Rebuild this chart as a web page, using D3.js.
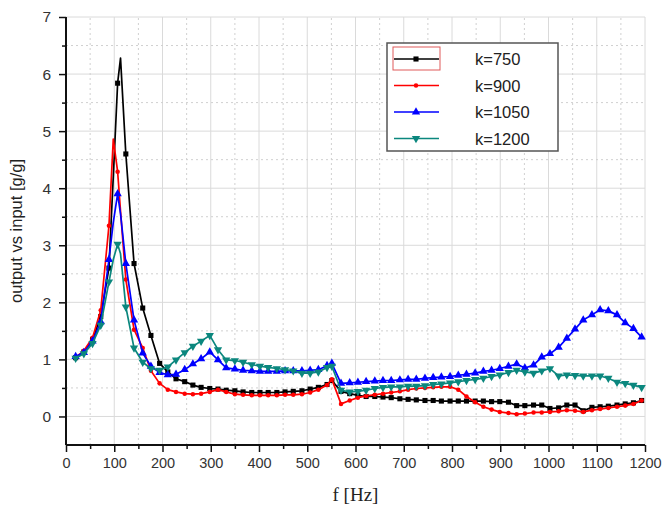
<!DOCTYPE html>
<html>
<head>
<meta charset="utf-8">
<script src="https://cdn.jsdelivr.net/npm/d3@7"></script>
<style>
  body { margin: 0; background: #fff; }
  svg { display: block; }
</style>
</head>
<body>
<div id="chart"></div>
<script>
// Frequencies [Hz] shared by all four curves
const freq = [20, 37, 55, 72, 89, 98, 107, 113, 124, 141, 159, 176, 194, 211, 228, 246, 263, 280, 298, 315,
    332, 350, 367, 385, 402, 419, 437, 454, 471, 489, 506, 523, 541, 551, 570, 588, 605, 622, 640, 657,
    674, 692, 709, 726, 744, 761, 778, 796, 813, 830, 848, 865, 882, 899, 917, 934, 951, 969, 986, 1003,
    1021, 1038, 1055, 1072, 1090, 1107, 1124, 1142, 1159, 1176, 1193];
// points drawn without a marker (peak vertices)
const unmarked = [98, 113];

const k750 = [1.03, 1.13, 1.35, 1.75, 2.6, 4.2, 5.84, 6.28, 4.6, 2.68, 1.9, 1.42, 0.93, 0.78, 0.66, 0.61, 0.55, 0.51, 0.49, 0.48,
    0.46, 0.45, 0.43, 0.42, 0.42, 0.42, 0.42, 0.43, 0.44, 0.45, 0.48, 0.51, 0.56, 0.63, 0.44, 0.40, 0.37, 0.35, 0.35, 0.34,
    0.33, 0.31, 0.30, 0.29, 0.28, 0.28, 0.27, 0.27, 0.27, 0.27, 0.27, 0.27, 0.26, 0.26, 0.25, 0.19, 0.19, 0.20, 0.20, 0.14,
    0.15, 0.20, 0.20, 0.10, 0.16, 0.17, 0.18, 0.20, 0.22, 0.24, 0.28];
const k900 = [1.04, 1.15, 1.38, 1.86, 3.34, 4.86, 4.29, 3.6, 2.4, 1.52, 1.2, 0.8, 0.58, 0.47, 0.43, 0.40, 0.39, 0.40, 0.43, 0.47,
    0.43, 0.39, 0.38, 0.37, 0.37, 0.37, 0.37, 0.38, 0.38, 0.39, 0.42, 0.47, 0.55, 0.65, 0.22, 0.28, 0.33, 0.36, 0.38, 0.40,
    0.42, 0.44, 0.47, 0.49, 0.50, 0.51, 0.52, 0.52, 0.47, 0.35, 0.25, 0.17, 0.12, 0.08, 0.06, 0.04, 0.05, 0.07, 0.07, 0.08,
    0.09, 0.11, 0.10, 0.08, 0.11, 0.13, 0.15, 0.17, 0.19, 0.22, 0.28];
const k1050 = [1.05, 1.12, 1.32, 1.66, 2.75, 3.4, 3.9, 3.55, 2.68, 1.69, 1.11, 0.88, 0.77, 0.73, 0.74, 0.82, 0.92, 1.01, 1.13, 0.99,
    0.85, 0.83, 0.81, 0.80, 0.79, 0.79, 0.79, 0.80, 0.80, 0.80, 0.81, 0.82, 0.89, 0.93, 0.58, 0.59, 0.60, 0.61, 0.62, 0.63,
    0.63, 0.64, 0.65, 0.65, 0.67, 0.68, 0.69, 0.70, 0.72, 0.74, 0.76, 0.79, 0.81, 0.84, 0.88, 0.92, 0.85, 0.90, 1.04, 1.10,
    1.21, 1.37, 1.53, 1.69, 1.78, 1.87, 1.85, 1.78, 1.64, 1.54, 1.39];
const k1200 = [1.02, 1.10, 1.28, 1.6, 2.36, 2.75, 3.02, 2.85, 1.92, 1.20, 0.95, 0.84, 0.81, 0.87, 0.99, 1.12, 1.23, 1.32, 1.42, 1.17,
    0.99, 0.98, 0.95, 0.91, 0.88, 0.86, 0.84, 0.82, 0.80, 0.76, 0.76, 0.78, 0.86, 0.88, 0.46, 0.43, 0.44, 0.46, 0.49, 0.51,
    0.52, 0.52, 0.53, 0.53, 0.54, 0.56, 0.57, 0.59, 0.61, 0.63, 0.65, 0.67, 0.70, 0.73, 0.77, 0.81, 0.78, 0.76, 0.80, 0.84,
    0.71, 0.73, 0.72, 0.71, 0.71, 0.71, 0.67, 0.60, 0.58, 0.55, 0.51];

const seriesNames = ["k=750", "k=900", "k=1050", "k=1200"];
const xTicks = [0, 100, 200, 300, 400, 500, 600, 700, 800, 900, 1000, 1100, 1200];
const yTicks = [0, 1, 2, 3, 4, 5, 6, 7];

const series = [
    { name: seriesNames[0], values: k750, color: "#000000", marker: "square" },
    { name: seriesNames[1], values: k900, color: "#ff0000", marker: "circle" },
    { name: seriesNames[2], values: k1050, color: "#0000ff", marker: "triangleUp" },
    { name: seriesNames[3], values: k1200, color: "#0b877e", marker: "triangleDown" }
];

// Dimensions
const W = 662, H = 510;
const x = d3.scaleLinear().domain([0, 1200]).range([66, 645]);
const y = d3.scaleLinear().domain([-0.5, 7]).range([445, 17]);

const svg = d3.select("#chart").append("svg")
    .attr("width", W).attr("height", H)
    .style("font-family", "Liberation Sans, Arial, sans-serif");

// Grid
const grid = svg.append("g");
const minorX = d3.range(50, 1200, 100);
const minorY = d3.range(0.5, 7, 1);
grid.selectAll(".gx").data(xTicks.slice(1)).enter().append("line")
    .attr("x1", d => x(d)).attr("x2", d => x(d)).attr("y1", y(-0.5)).attr("y2", y(7))
    .attr("stroke", "#dadada").attr("stroke-width", 1);
grid.selectAll(".gy").data(yTicks).enter().append("line")
    .attr("x1", x(0)).attr("x2", x(1200)).attr("y1", d => y(d)).attr("y2", d => y(d))
    .attr("stroke", "#dadada").attr("stroke-width", 1);
grid.selectAll(".mx").data(minorX).enter().append("line")
    .attr("x1", d => x(d)).attr("x2", d => x(d)).attr("y1", y(-0.5)).attr("y2", y(7))
    .attr("stroke", "#d0d0d0").attr("stroke-dasharray", "2,3");
grid.selectAll(".my").data(minorY).enter().append("line")
    .attr("x1", x(0)).attr("x2", x(1200)).attr("y1", d => y(d)).attr("y2", d => y(d))
    .attr("stroke", "#d0d0d0").attr("stroke-dasharray", "2,3");

// Axes
const xAxis = svg.append("g").attr("transform", `translate(0,${y(-0.5)})`)
    .call(d3.axisBottom(x).tickValues(xTicks).tickSize(7).tickPadding(6).tickFormat(d3.format("d")));
svg.append("g").attr("transform", `translate(0,${y(-0.5)})`)
    .call(d3.axisBottom(x).tickValues(minorX).tickSize(4).tickFormat(""))
    .call(g => g.select(".domain").remove());
const yAxis = svg.append("g").attr("transform", `translate(${x(0)},0)`)
    .call(d3.axisLeft(y).tickValues(yTicks).tickSize(7).tickPadding(8));
svg.append("g").attr("transform", `translate(${x(0)},0)`)
    .call(d3.axisLeft(y).tickValues(minorY).tickSize(4).tickFormat(""))
    .call(g => g.select(".domain").remove());

svg.selectAll(".domain").attr("stroke", "#111").attr("stroke-width", 2);
svg.selectAll(".tick line").attr("stroke", "#111").attr("stroke-width", 1.5);
xAxis.selectAll("text").attr("font-size", 14.5).attr("fill", "#333");
yAxis.selectAll("text").attr("font-size", 15.5).attr("fill", "#333");
// d3 axis domain includes outer ticks; rebuild as plain lines
xAxis.select(".domain").attr("d", `M${x(0)},0H${x(1200)}`);
yAxis.select(".domain").attr("d", `M0,${y(-0.5)}V${y(7)}`);

// Axis titles
svg.append("text")
    .attr("transform", `translate(22,${(y(-0.5) + y(7)) / 2}) rotate(-90)`)
    .attr("text-anchor", "middle").attr("font-size", 16.5).attr("fill", "#222")
    .text("output vs input [g/g]");
svg.append("text")
    .attr("x", (x(0) + x(1200)) / 2).attr("y", 501)
    .attr("text-anchor", "middle").attr("font-size", 19).attr("fill", "#222")
    .style("font-family", "Liberation Serif, Times New Roman, serif")
    .text("f [Hz]");

// Markers
const symbolFor = m => ({
    square: d3.symbolSquare, circle: d3.symbolCircle,
    triangleUp: d3.symbolTriangle, triangleDown: d3.symbolTriangle
})[m];
const sizeFor = m => ({ square: 26, circle: 16, triangleUp: 30, triangleDown: 30 })[m];
const drawMarker = (g, s, cx, cy) => g.append("path")
    .attr("d", d3.symbol().type(symbolFor(s.marker)).size(sizeFor(s.marker))())
    .attr("transform", `translate(${cx},${cy})${s.marker === "triangleDown" ? " rotate(180)" : ""}`)
    .attr("fill", s.color);

// Lines
const line = d3.line().x(d => x(d[0])).y(d => y(d[1]));
const plot = svg.append("g");
series.forEach(s => {
    const pts = freq.map((f, i) => [f, s.values[i]]);
    plot.append("path").datum(pts)
        .attr("d", line).attr("fill", "none")
        .attr("stroke", s.color).attr("stroke-width", 1.7).attr("stroke-linejoin", "round");
    const mg = plot.append("g");
    pts.filter(p => !unmarked.includes(p[0])).forEach(p => drawMarker(mg, s, x(p[0]), y(p[1])));
});

// Legend
const legend = svg.append("g");
legend.append("rect")
    .attr("x", 387).attr("y", 43).attr("width", 171).attr("height", 108)
    .attr("fill", "#fff").attr("stroke", "#555").attr("stroke-width", 1.5);
legend.append("rect")
    .attr("x", 393).attr("y", 47).attr("width", 47).attr("height", 23)
    .attr("fill", "none").attr("stroke", "#e05a5a").attr("stroke-width", 1);
series.forEach((s, i) => {
    const ly = 59 + i * 26.5;
    legend.append("line").attr("x1", 394).attr("x2", 439).attr("y1", ly).attr("y2", ly)
        .attr("stroke", s.color).attr("stroke-width", 1.7);
    drawMarker(legend, s, 416, ly);
    legend.append("text").attr("x", 475).attr("y", ly + 6)
        .attr("font-size", 16.5).attr("fill", "#222").text(s.name);
});
</script>
</body>
</html>
